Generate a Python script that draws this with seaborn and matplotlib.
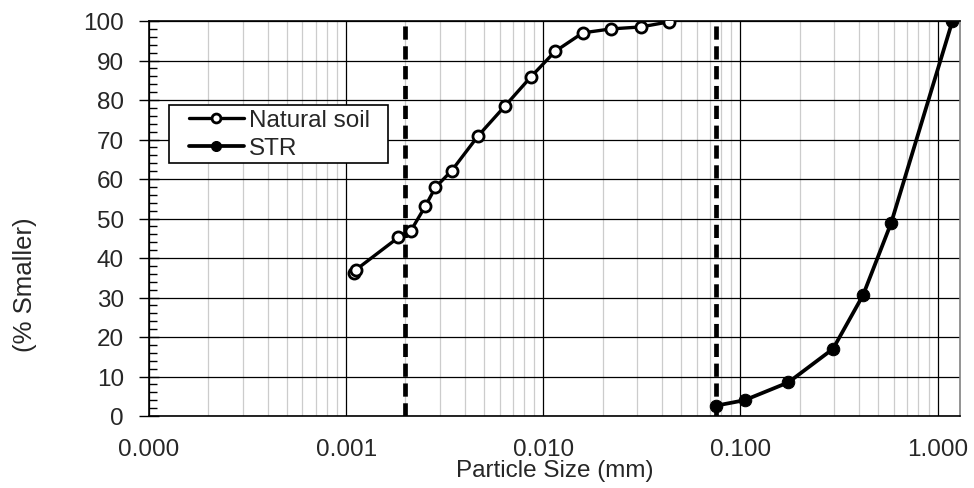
import numpy as np
import pandas as pd
import matplotlib
matplotlib.use("Agg")
import matplotlib.pyplot as plt
import seaborn as sns
from matplotlib.patches import Rectangle
from matplotlib.ticker import FixedLocator, FixedFormatter, LogLocator, NullFormatter, MultipleLocator

# ---- data ----
natural_size = [0.00110, 0.00112, 0.00184, 0.00213, 0.00252, 0.00284, 0.00343,
                0.00467, 0.0064, 0.00867, 0.01148, 0.01586, 0.0221, 0.0313, 0.0436]
natural_pct = [36.3, 37.0, 45.2, 46.9, 53.1, 57.9, 62.1,
               70.9, 78.5, 85.9, 92.3, 97.0, 98.0, 98.5, 99.8]
str_size = [0.075, 0.105, 0.175, 0.295, 0.419, 0.582, 1.19]
str_pct = [2.6, 4.0, 8.5, 17.0, 30.6, 48.9, 100.0]
boundaries = [0.002, 0.075]
x_ticks = [0.0001, 0.001, 0.01, 0.1, 1.0]
x_tick_labels = ["0.000", "0.001", "0.010", "0.100", "1.000"]
y_ticks = list(range(0, 101, 10))
x_limits = [0.0001, 1.30]

FS = 17.5
W, H = 974, 489

sns.set_style("white")
plt.rcParams['font.family'] = ['Liberation Sans', 'DejaVu Sans']

fig = plt.figure(figsize=(W / 100, H / 100), dpi=100)
ax = fig.add_axes([149/W, 1 - 417/H, (960-149)/W, (417-22)/H])

df_nat = pd.DataFrame({"size": natural_size, "pct": natural_pct})
df_str = pd.DataFrame({"size": str_size, "pct": str_pct})

sns.lineplot(data=df_nat, x="size", y="pct", ax=ax, sort=False, color="black",
             lw=2.4, marker="o", markersize=8, markerfacecolor="white",
             markeredgecolor="black", markeredgewidth=2, zorder=5, label="Natural soil")
sns.lineplot(data=df_str, x="size", y="pct", ax=ax, sort=False, color="black",
             lw=2.7, marker="o", markersize=9, markerfacecolor="black",
             markeredgecolor="black", zorder=5, label="STR")

for b in boundaries:
    ax.axvline(b, color="black", lw=3.4, linestyle=(0, (2.8, 1.4)), zorder=4)

ax.set_xscale("log")
ax.set_xlim(*x_limits)
ax.set_ylim(0, 100)
ax.xaxis.set_major_locator(FixedLocator(x_ticks))
ax.xaxis.set_major_formatter(FixedFormatter(x_tick_labels))
ax.xaxis.set_minor_locator(LogLocator(base=10, subs=np.arange(2, 10)))
ax.xaxis.set_minor_formatter(NullFormatter())
ax.yaxis.set_major_locator(FixedLocator(y_ticks))
ax.yaxis.set_minor_locator(MultipleLocator(2))

ax.grid(True, which="major", axis="both", color="black", lw=0.9, zorder=1)
ax.grid(True, which="minor", axis="x", color="#cccccc", lw=0.9, zorder=0)
ax.set_axisbelow(True)

ax.tick_params(axis="x", which="major", direction="out", length=7, width=1,
               labelsize=FS, color="black", pad=9)
ax.tick_params(axis="x", which="minor", length=0)
ax.tick_params(axis="y", which="major", direction="inout", length=14, width=1,
               labelsize=FS, color="black", pad=11, left=True)
ax.tick_params(axis="y", which="minor", direction="in", length=6, width=1,
               color="black", left=True)

for s in ["left", "bottom", "top"]:
    ax.spines[s].set_color("black")
    ax.spines[s].set_linewidth(1.2)
ax.spines["right"].set_color("#808080")
ax.spines["right"].set_linewidth(1.2)

ax.set_xlabel("Particle Size (mm)", fontsize=FS, labelpad=-1)
ax.set_ylabel("")
fig.text(25/W, 1 - 285/H, "(% Smaller)", rotation=90, fontsize=18.5,
         ha="center", va="center")

# legend frame (drawn as a patch so its padding matches the reference)
frame = Rectangle((169/W, 1 - 164/H), (388-169)/W, (164-106)/H, transform=fig.transFigure,
                  facecolor="white", edgecolor="black", lw=1.2, zorder=9)
fig.add_artist(frame)
leg = ax.legend(loc="upper left", bbox_to_anchor=(189/W, 1 - 110/H),
                bbox_transform=fig.transFigure, borderaxespad=0, borderpad=0,
                frameon=False, fontsize=FS, handlelength=2.25, handletextpad=0.2,
                labelspacing=0.26, markerscale=0.8)
leg.remove()
leg.set_zorder(10)
fig.add_artist(leg)

fig.savefig("out.png", dpi=100)
